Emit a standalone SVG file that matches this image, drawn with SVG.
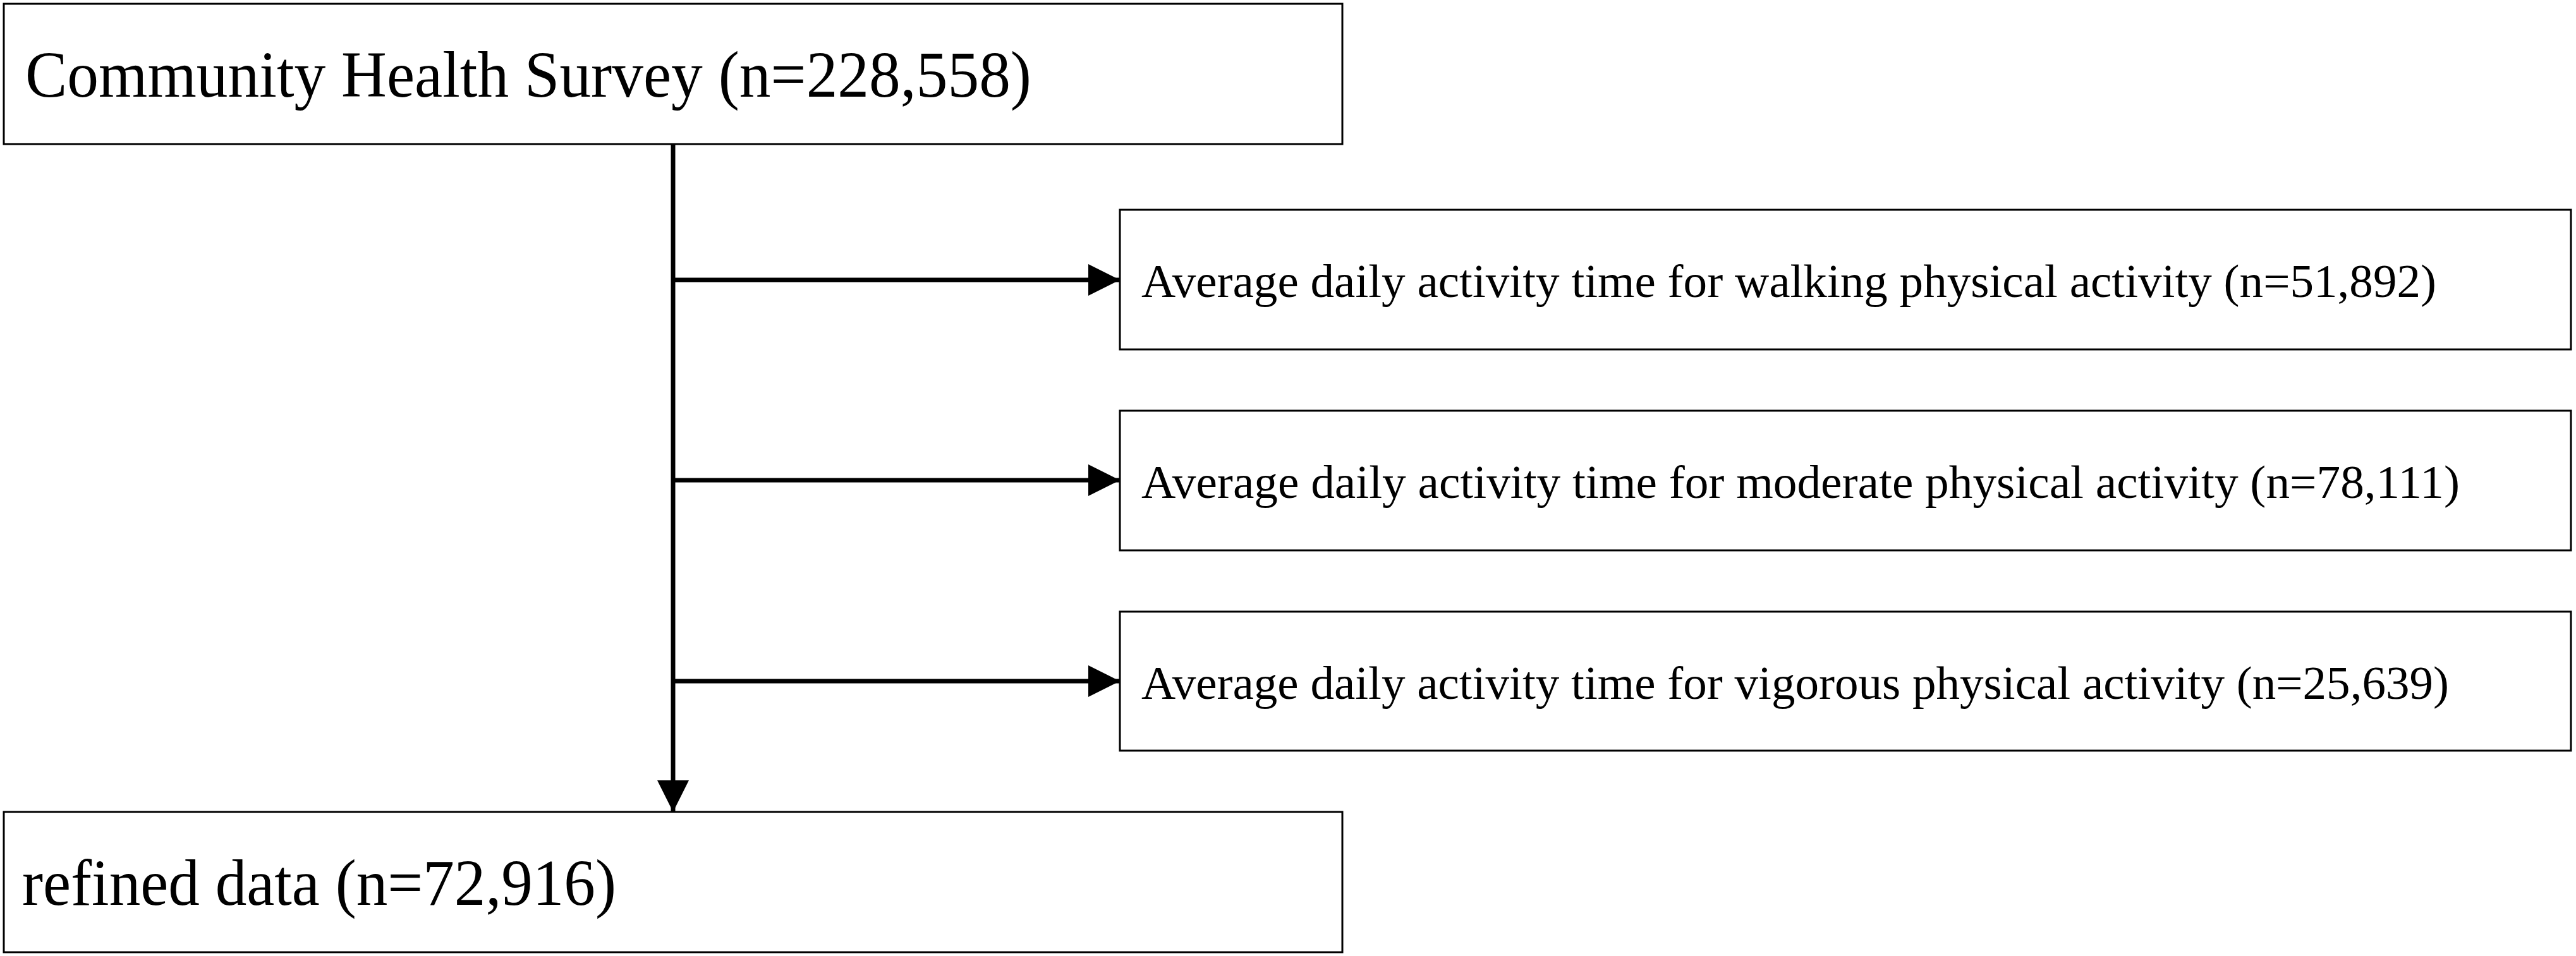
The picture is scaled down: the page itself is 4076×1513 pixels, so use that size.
<svg xmlns="http://www.w3.org/2000/svg" width="4076" height="1513" viewBox="0 0 4076 1513">
<style>
.box{fill:#fff;stroke:#000;stroke-width:3}
.t{font-family:"Liberation Serif","Times New Roman",serif;fill:#000}
.big{font-size:104px}
.small{font-size:74px}
.conn{stroke:#000;stroke-width:7;fill:none}
</style>
<defs>
<marker id="ah" markerUnits="userSpaceOnUse" markerWidth="52" markerHeight="52" refX="50" refY="25" orient="auto">
<path d="M0,0 L50,25 L0,50 Z" fill="#000"/>
</marker>
</defs>
<rect width="4076" height="1513" fill="#fff"/>
<g id="connectors">
<line class="conn" x1="1065" y1="228" x2="1065" y2="1285" marker-end="url(#ah)"/>
<line class="conn" x1="1065" y1="443" x2="1772" y2="443" marker-end="url(#ah)"/>
<line class="conn" x1="1065" y1="760" x2="1772" y2="760" marker-end="url(#ah)"/>
<line class="conn" x1="1065" y1="1078" x2="1772" y2="1078" marker-end="url(#ah)"/>
</g>
<g id="survey">
<rect class="box" x="6" y="6" width="2118" height="222"/>
<text class="t big" x="40" y="153" textLength="1592" lengthAdjust="spacingAndGlyphs">Community Health Survey (n=228,558)</text>
</g>
<g id="walking">
<rect class="box" x="1772" y="332" width="2296" height="221"/>
<text class="t small" x="1806" y="470" textLength="2049" lengthAdjust="spacingAndGlyphs">Average daily activity time for walking physical activity (n=51,892)</text>
</g>
<g id="moderate">
<rect class="box" x="1772" y="650" width="2296" height="221"/>
<text class="t small" x="1806" y="788" textLength="2086" lengthAdjust="spacingAndGlyphs">Average daily activity time for moderate physical activity (n=78,111)</text>
</g>
<g id="vigorous">
<rect class="box" x="1772" y="968" width="2296" height="220"/>
<text class="t small" x="1806" y="1106" textLength="2069" lengthAdjust="spacingAndGlyphs">Average daily activity time for vigorous physical activity (n=25,639)</text>
</g>
<g id="refined">
<rect class="box" x="6" y="1285" width="2118" height="222"/>
<text class="t big" x="35" y="1432" textLength="940" lengthAdjust="spacingAndGlyphs">refined data (n=72,916)</text>
</g>
</svg>
